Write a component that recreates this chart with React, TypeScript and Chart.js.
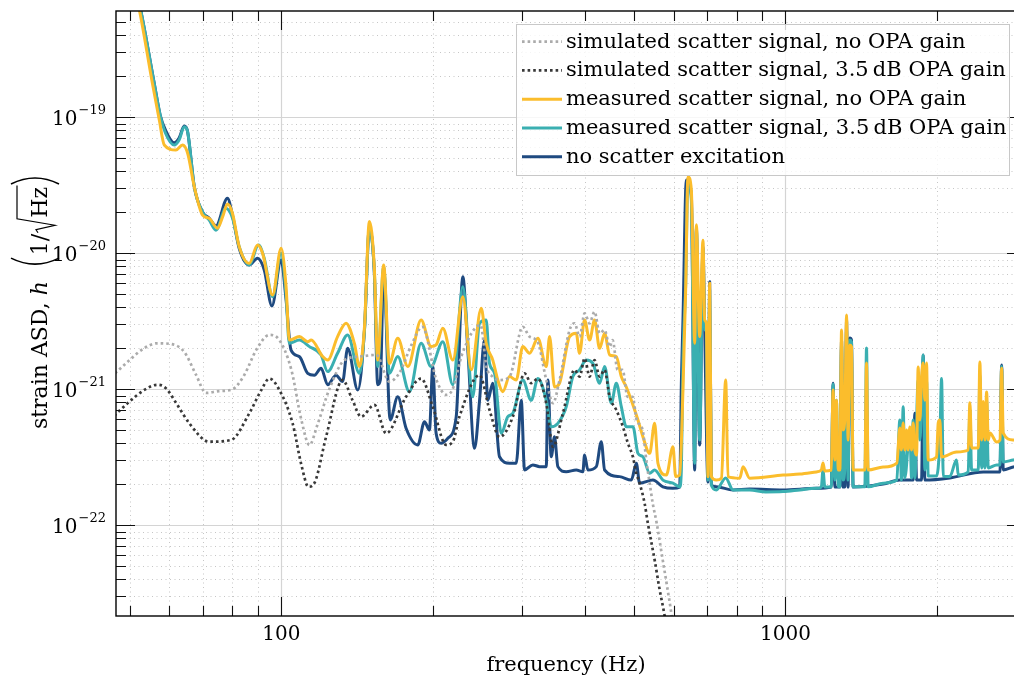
import { useEffect, useRef } from "react";
import { Chart, registerables } from "chart.js";

Chart.register(...registerables);

// ---------------- data ----------------
const seriesLabels = [
  "simulated scatter signal, no OPA gain",
  "simulated scatter signal, 3.5\u2009dB OPA gain",
  "measured scatter signal, no OPA gain",
  "measured scatter signal, 3.5\u2009dB OPA gain",
  "no scatter excitation",
];
const seriesColors = ["#ababab", "#383838", "#fbbd2c", "#3aafb1", "#1f4a80"];

const simNoGainFreq = [46.8, 50, 53.5, 56.7, 60.5, 64.2, 67.8, 70.9, 75.3, 80, 84.4, 89.2, 94.7, 99.1, 104.7, 109.6, 113.7, 117.9, 124.5, 133.4, 142.9, 154.4, 163.8, 171.5, 181.2, 190.5, 203.1, 212.7, 218.6, 228.8, 248.4, 255.3, 262.4, 270.9, 283.6, 301.3, 310.7, 322.3, 335.4, 345.7, 356.4, 373.1, 381.7, 390.5, 399.6, 408.8, 418.2, 427.9, 437.8, 447.9, 454.1, 464.6, 475.3, 486.3, 497.6, 506.8, 520.9, 530.4, 537.8, 545.2, 555.3, 570.7, 583.9, 594.8, 605.7];
const simNoGainASD = [1.31e-21, 1.64e-21, 2.01e-21, 2.18e-21, 2.15e-21, 1.88e-21, 1.27e-21, 9.4e-22, 9.7e-22, 1.0e-21, 1.27e-21, 1.95e-21, 2.51e-21, 2.3e-21, 1.39e-21, 5.95e-22, 3.89e-22, 5.46e-22, 1.0e-21, 1.64e-21, 1.74e-21, 1.79e-21, 1.14e-21, 1.32e-21, 2.12e-21, 2.88e-21, 1.17e-21, 9.1e-22, 1.0e-21, 1.85e-21, 2.97e-21, 1.46e-21, 1.24e-21, 1.17e-21, 1.24e-21, 2.88e-21, 2.44e-21, 2.24e-21, 1.17e-21, 7.9e-22, 1.17e-21, 2.73e-21, 3.06e-21, 2.44e-21, 3.62e-21, 3.06e-21, 3.72e-21, 2.58e-21, 2.73e-21, 2.06e-21, 2.3e-21, 1.39e-21, 1.39e-21, 8.8e-22, 8.8e-22, 5.95e-22, 5.0e-22, 2.87e-22, 2.05e-22, 1.46e-22, 1.04e-22, 5.6e-23, 3.35e-23, 2.15e-23, 1.2e-23];

const simGainFreq = [46.6, 49.9, 53.5, 56.8, 59.0, 62.2, 65.7, 71.9, 79.5, 86.4, 91.3, 94.7, 99.1, 105.3, 109.6, 113.2, 116.3, 122.7, 132.3, 138.4, 143.9, 153.0, 161.4, 176.8, 189.4, 199.7, 212.3, 218.9, 225.6, 247.3, 258.8, 270.9, 287.9, 303.7, 313.2, 322.8, 335.4, 345.7, 361.9, 381.7, 390.5, 399.6, 408.8, 418.2, 427.9, 437.8, 447.9, 461.8, 476.0, 487.0, 498.2, 506.0, 513.7, 525.6, 533.5, 550.2, 563.0, 576.0, 589.3];
const simGainASD = [6.4e-22, 8.07e-22, 9.9e-22, 1.08e-21, 1.02e-21, 7.67e-22, 5.62e-22, 4.12e-22, 4.24e-22, 6.66e-22, 9.9e-22, 1.2e-21, 9.9e-22, 5.62e-22, 2.78e-22, 1.92e-22, 2.04e-22, 4.48e-22, 1.17e-21, 8.34e-22, 6.29e-22, 7.67e-22, 4.75e-22, 8.82e-22, 1.2e-21, 7.45e-22, 3.9e-22, 4.12e-22, 6.29e-22, 1.27e-21, 7.05e-22, 4.46e-22, 6.29e-22, 1.31e-21, 1.11e-21, 1.2e-21, 7.89e-22, 3.78e-22, 6.66e-22, 1.39e-21, 1.24e-21, 1.69e-21, 1.24e-21, 1.64e-21, 1.24e-21, 1.39e-21, 8.82e-22, 7.05e-22, 5.31e-22, 4.01e-22, 3.19e-22, 2.41e-22, 2.04e-22, 1.45e-22, 1.03e-22, 5.56e-23, 3.35e-23, 2.15e-23, 1.2e-23];

const measNoGainFreq = [50.6, 52.3, 55.5, 57.3, 58.6, 61.8, 63.7, 65.2, 67.2, 69.8, 71.9, 74.7, 76.5, 78.2, 80.0, 82.5, 86.4, 89.7, 91.8, 96.1, 99.9, 102.2, 103.7, 108.6, 112.8, 114.6, 120.8, 123.6, 129.3, 134.4, 139.6, 142.9, 146.2, 149.5, 152.9, 155.3, 159.6, 163.8, 170.2, 178.2, 189.4, 198.2, 202.8, 209.1, 218.9, 229.1, 238.1, 249.2, 254.9, 262.7, 268.8, 275.0, 283.6, 292.4, 301.3, 310.7, 322.8, 335.4, 340.5, 348.3, 356.4, 373.1, 384.6, 390.5, 399.5, 408.8, 418.2, 427.9, 437.8, 447.9, 461.8, 472.5, 483.4, 494.6, 509.8, 521.5, 537.8, 550.2, 558.5, 580.4, 598.2, 605.7, 616.8, 626.2, 633.9, 640.6, 650.6, 660.6, 665.7, 675.8, 686.1, 691.5, 696.8, 702.0, 707.5, 712.9, 729.4, 746.3, 761.1, 769.2, 811.5, 823.9, 849.4, 989, 1068, 1152, 1178, 1187, 1197, 1233, 1243, 1253, 1262, 1273, 1282, 1292, 1301, 1311, 1322, 1331, 1342, 1352, 1362, 1437, 1448, 1459, 1562, 1663, 1686, 1698, 1712, 1725, 1739, 1751, 1765, 1779, 1792, 1806, 1820, 1833, 1848, 1862, 1876, 1890, 1905, 1919, 1994, 2009, 2024, 2040, 2184, 2304, 2322, 2340, 2412, 2430, 2450, 2468, 2487, 2506, 2525, 2544, 2624, 2664, 2684, 2704, 2830, 3000];
const measNoGainASD = [1.02e-18, 6.15e-19, 1.78e-19, 9.46e-20, 6.26e-20, 5.75e-20, 6.26e-20, 5.44e-20, 3.09e-20, 1.91e-20, 1.81e-20, 1.53e-20, 1.86e-20, 2.3e-20, 1.97e-20, 1.12e-20, 8.44e-21, 1.15e-20, 1.0e-20, 4.93e-21, 1.09e-20, 5.68e-21, 2.3e-21, 2.44e-21, 2.24e-21, 2.3e-21, 1.74e-21, 1.64e-21, 2.44e-21, 3.06e-21, 2.18e-21, 1.47e-21, 2.88e-21, 1.71e-20, 7.97e-21, 1.64e-21, 8.2e-21, 1.55e-21, 2.37e-21, 1.47e-21, 3.23e-21, 2.06e-21, 2.12e-21, 2.81e-21, 1.64e-21, 4.79e-21, 1.39e-21, 3.94e-21, 2.18e-21, 1.64e-21, 1.17e-21, 9.6e-22, 1.24e-21, 1.17e-21, 2.06e-21, 1.84e-21, 2.37e-21, 1.47e-21, 2.44e-21, 1.04e-21, 1.11e-21, 2.44e-21, 2.58e-21, 1.84e-21, 3.23e-21, 2.3e-21, 3.23e-21, 2.0e-21, 2.58e-21, 1.79e-21, 1.74e-21, 1.24e-21, 1.04e-21, 8.3e-22, 5.95e-22, 4.48e-22, 3.38e-22, 5.62e-22, 2.86e-22, 2.34e-22, 3.78e-22, 2.28e-22, 2.34e-22, 9.9e-22, 5.37e-21, 3.66e-20, 2.92e-20, 2.18e-21, 1.62e-20, 2.44e-21, 1.25e-20, 3.23e-21, 3.06e-21, 2.28e-22, 6.02e-21, 2.28e-22, 2.15e-22, 2.22e-22, 1.17e-21, 2.28e-22, 2.22e-22, 2.7e-22, 2.22e-22, 2.34e-22, 2.38e-22, 2.47e-22, 2.55e-22, 2.87e-22, 2.51e-22, 2.55e-22, 9.9e-22, 3.02e-22, 8.3e-22, 2.55e-22, 2.55e-22, 2.73e-21, 5.02e-22, 5.95e-22, 3.52e-21, 4.24e-22, 2.12e-21, 2.06e-21, 2.55e-22, 2.55e-22, 1.56e-21, 2.55e-22, 2.68e-22, 2.87e-22, 5.19e-22, 3.58e-22, 5.65e-22, 3.58e-22, 5.02e-22, 3.58e-22, 5.28e-22, 3.58e-22, 5.65e-22, 3.58e-22, 3.29e-22, 1.46e-21, 5.95e-22, 1.23e-21, 1.56e-21, 8.3e-22, 1.56e-21, 3.02e-22, 3.18e-22, 5.65e-22, 5.95e-22, 3.18e-22, 3.46e-22, 3.58e-22, 7.98e-22, 3.7e-22, 3.7e-22, 1.59e-21, 4.24e-22, 8.12e-22, 4.24e-22, 9.55e-22, 4.24e-22, 4.77e-22, 4.1e-22, 4.24e-22, 1.43e-21, 4.77e-22, 4.24e-22, 4.1e-22];

const measGainFreq = [50.8, 52.6, 55.96, 57.5, 58.9, 61.3, 62.7, 64.2, 65.2, 67.2, 69.8, 71.9, 74.2, 77.6, 80.0, 82.5, 86.4, 90.1, 92.5, 96.1, 99.9, 102.2, 103.7, 108.6, 113.7, 119.9, 123.6, 129.3, 135.4, 142.9, 146.2, 149.5, 152.9, 155.3, 159.6, 163.8, 170.2, 179.5, 189.4, 198.2, 209.1, 218.9, 229.1, 239.8, 247.3, 254.9, 258.8, 264.8, 273.1, 281.4, 287.9, 301.3, 313.1, 322.8, 335.4, 343.1, 353.6, 367.4, 378.7, 390.5, 402.6, 415.0, 427.9, 437.8, 451.4, 461.8, 472.5, 483.4, 498.3, 509.8, 521.5, 537.8, 550.2, 571.4, 598.2, 616.8, 621.6, 626.2, 633.9, 640.6, 650.6, 660.6, 665.7, 675.8, 686.1, 691.5, 696.8, 702.0, 707.5, 712.9, 729.4, 761.1, 787.0, 849.4, 913.7, 989, 1068, 1152, 1178, 1187, 1197, 1233, 1243, 1253, 1262, 1273, 1282, 1292, 1301, 1311, 1322, 1331, 1342, 1352, 1362, 1437, 1448, 1459, 1562, 1663, 1686, 1698, 1712, 1725, 1765, 1779, 1792, 1806, 1833, 1848, 1862, 1876, 1890, 1905, 1919, 1994, 2024, 2040, 2056, 2118, 2184, 2202, 2304, 2322, 2340, 2412, 2430, 2450, 2468, 2487, 2506, 2525, 2624, 2664, 2684, 2704, 2830, 3000];
const measGainASD = [1.02e-18, 6.15e-19, 1.78e-19, 1.04e-19, 7.67e-20, 6.26e-20, 6.81e-20, 8.53e-20, 7.8e-20, 3.09e-20, 2.01e-20, 1.76e-20, 1.48e-20, 2.14e-20, 1.82e-20, 1.12e-20, 8.2e-21, 1.15e-20, 9.19e-21, 4.79e-21, 1.0e-20, 4.93e-21, 2.18e-21, 2.3e-21, 2.06e-21, 1.79e-21, 1.35e-21, 1.84e-21, 2.51e-21, 1.31e-21, 2.73e-21, 1.53e-20, 7.54e-21, 1.47e-21, 7.97e-21, 1.31e-21, 1.74e-21, 9.6e-22, 2.18e-21, 1.47e-21, 2.24e-21, 1.08e-21, 5.68e-21, 8.8e-22, 3.06e-21, 3.23e-21, 1.55e-21, 1.31e-21, 4.75e-22, 6.29e-22, 6.66e-22, 1.17e-21, 8.3e-22, 1.2e-21, 8.3e-22, 5.31e-22, 5.62e-22, 7.45e-22, 1.24e-21, 1.39e-21, 1.64e-21, 1.55e-21, 1.11e-21, 1.47e-21, 7.9e-22, 1.11e-21, 7.45e-22, 5.31e-22, 5.31e-22, 3.38e-22, 3.19e-22, 2.41e-22, 2.55e-22, 2.15e-22, 2.04e-22, 1.92e-22, 2.55e-22, 1.64e-21, 5.85e-21, 3.46e-20, 2.47e-20, 2.86e-22, 1.48e-20, 4.24e-22, 1.06e-20, 2.73e-21, 2.73e-21, 2.15e-22, 5.37e-21, 1.98e-22, 1.82e-22, 2.23e-22, 1.82e-22, 1.82e-22, 1.76e-22, 1.77e-22, 1.82e-22, 1.87e-22, 1.91e-22, 2.55e-22, 1.91e-22, 1.92e-22, 1.09e-21, 2.15e-22, 8.3e-22, 1.92e-22, 1.92e-22, 2.12e-21, 2.15e-22, 2.55e-22, 2.73e-21, 2.15e-22, 2.3e-21, 2.23e-21, 1.92e-22, 1.92e-22, 2.01e-21, 1.92e-22, 2.04e-22, 2.15e-22, 5.95e-22, 2.15e-22, 7.45e-22, 2.23e-22, 5.02e-22, 2.23e-22, 5.95e-22, 2.23e-22, 1.17e-21, 4.24e-22, 8.3e-22, 1.79e-21, 2.55e-22, 1.17e-21, 2.3e-22, 2.3e-22, 4.24e-22, 1.2e-21, 2.3e-22, 2.28e-22, 3.02e-22, 2.34e-22, 2.47e-22, 7.05e-22, 2.55e-22, 2.55e-22, 1.27e-21, 2.64e-22, 5.95e-22, 2.64e-22, 8.3e-22, 2.64e-22, 2.78e-22, 2.78e-22, 1.47e-21, 2.92e-22, 3.02e-22, 3.1e-22];

const quietFreq = [50.9, 52.6, 55.96, 57.5, 58.9, 61.3, 62.7, 64.2, 65.2, 67.2, 69.8, 71.9, 74.2, 78.2, 80.0, 82.5, 86.4, 89.7, 92.5, 95.8, 99.9, 102.2, 104.5, 108.6, 112.8, 116.3, 119.9, 123.6, 128.4, 132.3, 135.4, 141.8, 146.2, 149.5, 152.9, 155.3, 157.2, 159.6, 164.4, 170.2, 176.8, 186.5, 192.3, 196.7, 199.7, 202.8, 207.5, 213.9, 222.3, 229.1, 234.4, 241.7, 247.3, 252.9, 256.8, 262.7, 270.9, 283.6, 292.4, 299.2, 303.7, 315.4, 325.3, 335.4, 337.9, 343.1, 348.3, 353.6, 367.4, 384.6, 396.4, 399.5, 405.6, 421.5, 431.2, 437.8, 468.9, 494.6, 506.1, 513.7, 545.9, 571.4, 598.2, 616.8, 621.6, 626.2, 635.9, 650.6, 660.6, 665.7, 675.8, 686.1, 691.5, 702.0, 707.5, 712.9, 729.4, 787.0, 849.4, 989, 1152, 1233, 1243, 1253, 1282, 1292, 1301, 1311, 1322, 1331, 1342, 1352, 1362, 1562, 1686, 1792, 1806, 1820, 1862, 1876, 1890, 2118, 2468, 2664, 2684, 2704, 2830, 3000];
const quietASD = [1.02e-18, 6.15e-19, 1.78e-19, 1.04e-19, 8.07e-20, 6.5e-20, 7.04e-20, 8.63e-20, 7.8e-20, 3.09e-20, 2.01e-20, 1.82e-20, 1.59e-20, 2.54e-20, 1.91e-20, 1.09e-20, 8.2e-21, 9.19e-21, 7.54e-21, 4.1e-21, 8.93e-21, 4.54e-21, 1.95e-21, 1.74e-21, 1.31e-21, 1.27e-21, 1.43e-21, 1.08e-21, 1.27e-21, 1.14e-21, 2.0e-21, 9.9e-22, 2.73e-21, 1.53e-20, 7.29e-21, 1.08e-21, 1.17e-21, 7.54e-21, 5.95e-22, 8.8e-22, 5.17e-22, 3.9e-22, 5.78e-22, 5.02e-22, 1.47e-21, 4.75e-22, 4.01e-22, 4.36e-22, 6.29e-22, 6.73e-21, 1.95e-21, 3.68e-22, 8.3e-22, 2.3e-21, 8.3e-22, 1.11e-21, 3.19e-22, 2.86e-22, 2.86e-22, 8.3e-22, 2.55e-22, 2.78e-22, 2.7e-22, 2.7e-22, 1.17e-21, 3.19e-22, 4.48e-22, 2.7e-22, 2.48e-22, 2.55e-22, 2.48e-22, 3.29e-22, 2.55e-22, 2.7e-22, 4.12e-22, 2.55e-22, 2.28e-22, 2.15e-22, 2.86e-22, 2.04e-22, 2.15e-22, 1.92e-22, 1.87e-22, 1.91e-22, 1.11e-21, 3.23e-21, 3.46e-20, 2.68e-20, 2.55e-22, 1.53e-20, 3.9e-22, 1.12e-20, 2.73e-21, 2.08e-22, 6.18e-21, 1.98e-22, 1.92e-22, 1.82e-22, 1.85e-22, 1.82e-22, 1.87e-22, 1.91e-22, 1.11e-21, 1.91e-22, 1.91e-22, 2.3e-21, 1.91e-22, 1.91e-22, 3.23e-21, 1.91e-22, 2.38e-21, 2.3e-21, 1.91e-22, 2.01e-22, 2.15e-22, 2.15e-22, 6.66e-22, 2.15e-22, 2.15e-22, 1.79e-21, 2.15e-22, 2.23e-22, 2.47e-22, 2.47e-22, 1.51e-21, 2.55e-22, 2.68e-22, 2.73e-22];

// axis ranges and ticks
const X_MIN = 47;
const X_MAX = 3000;
const Y_MIN = 2.153e-23;
const Y_MAX = 6.05e-19;
const xMajorTicks = [100, 1000];
const xTickLabels = ["100", "1000"];
const xMinorTicks = [50, 60, 70, 80, 90, 200, 300, 400, 500, 600, 700, 800, 900, 2000];
const yMajorTicks = [1e-22, 1e-21, 1e-20, 1e-19];
const yTickExponents = ["\u221222", "\u221221", "\u221220", "\u221219"];
const yMinorMantissas = [2, 3, 4, 5, 6, 7, 8, 9];
const yDecades = [1e-23, 1e-22, 1e-21, 1e-20, 1e-19];

const xTitle = "frequency (Hz)";

const FONT = '"DejaVu Serif", "Liberation Serif", serif';

function yMinorTicks(): number[] {
  const out: number[] = [];
  for (const d of yDecades) for (const m of yMinorMantissas) {
    const v = m * d;
    if (v > Y_MIN * 1.01 && v < Y_MAX * 0.99) out.push(v);
  }
  return out;
}

function drawYTitle(ctx: CanvasRenderingContext2D, cx: number, cy: number) {
  ctx.save();
  ctx.translate(cx, cy);
  ctx.rotate(-Math.PI / 2);
  ctx.fillStyle = "#000";
  ctx.strokeStyle = "#000";
  ctx.textBaseline = "alphabetic";
  ctx.textAlign = "left";
  const fBase = `22px ${FONT}`;
  const fIt = `italic 22px ${FONT}`;
  const segs: { t: string; f: string; kind?: string; w?: number }[] = [
    { t: "strain ASD, ", f: fBase },
    { t: "h", f: fIt },
    { t: "  ", f: fBase },
    { t: "", f: fBase, kind: "lp", w: 12 },
    { t: "1/", f: fBase },
    { t: "", f: fBase, kind: "rad", w: 16 },
    { t: "Hz", f: fBase, kind: "hz" },
    { t: "", f: fBase, kind: "rp", w: 12 },
  ];
  let total = 0;
  for (const s of segs) {
    if (s.kind === "rad" || s.kind === "lp" || s.kind === "rp") { total += s.w!; continue; }
    ctx.font = s.f;
    s.w = ctx.measureText(s.t).width;
    total += s.w;
  }
  let x = -total / 2;
  let radStart = 0;
  for (const s of segs) {
    if (s.kind === "rad") { radStart = x; x += s.w!; continue; }
    if (s.kind === "lp") {
      ctx.lineWidth = 1.6;
      ctx.beginPath();
      ctx.moveTo(x + 9, -36);
      ctx.quadraticCurveTo(x - 3, -12, x + 9, 12);
      ctx.stroke();
      x += s.w!;
      continue;
    }
    if (s.kind === "rp") {
      ctx.lineWidth = 1.6;
      ctx.beginPath();
      ctx.moveTo(x + 3, -36);
      ctx.quadraticCurveTo(x + 15, -12, x + 3, 12);
      ctx.stroke();
      x += s.w!;
      continue;
    }
    ctx.font = s.f;
    ctx.fillText(s.t, x, 0);
    if (s.kind === "hz") {
      const x0 = radStart;
      ctx.lineWidth = 1.2;
      ctx.beginPath();
      ctx.moveTo(x0 + 1, -9);
      ctx.lineTo(x0 + 4, -11);
      ctx.lineTo(x0 + 8.5, 8);
      ctx.lineTo(x0 + 15, -30);
      ctx.lineTo(x + s.w! + 1.5, -30);
      ctx.stroke();
    }
    x += s.w!;
  }
  ctx.restore();
}

const decorPlugin = {
  id: "decor",
  beforeDatasetsDraw(chart: any) {
    const { ctx, chartArea: a } = chart;
    const xs = chart.scales.x;
    const ys = chart.scales.y;
    ctx.save();
    ctx.beginPath();
    ctx.rect(a.left, a.top, a.right - a.left, a.bottom - a.top);
    ctx.clip();
    ctx.lineWidth = 1;
    ctx.strokeStyle = "#c6c6c6";
    ctx.setLineDash([1, 3.5]);
    for (const v of xMinorTicks) {
      const p = Math.round(xs.getPixelForValue(v)) + 0.5;
      ctx.beginPath(); ctx.moveTo(p, a.top); ctx.lineTo(p, a.bottom); ctx.stroke();
    }
    for (const v of yMinorTicks()) {
      const p = Math.round(ys.getPixelForValue(v)) + 0.5;
      ctx.beginPath(); ctx.moveTo(a.left, p); ctx.lineTo(a.right, p); ctx.stroke();
    }
    ctx.setLineDash([]);
    ctx.strokeStyle = "#d4d4d4";
    ctx.lineWidth = 1.2;
    for (const v of xMajorTicks) {
      const p = Math.round(xs.getPixelForValue(v)) + 0.5;
      ctx.beginPath(); ctx.moveTo(p, a.top); ctx.lineTo(p, a.bottom); ctx.stroke();
    }
    for (const v of yMajorTicks) {
      const p = Math.round(ys.getPixelForValue(v)) + 0.5;
      ctx.beginPath(); ctx.moveTo(a.left, p); ctx.lineTo(a.right, p); ctx.stroke();
    }
    ctx.restore();
  },
  afterDraw(chart: any) {
    const { ctx, chartArea: a } = chart;
    const xs = chart.scales.x;
    const ys = chart.scales.y;
    ctx.save();
    // ticks (inside, all four sides)
    ctx.strokeStyle = "#111";
    ctx.lineWidth = 1.1;
    const MAJ = 19, MIN = 10;
    const vt = (v: number, len: number) => {
      const p = Math.round(xs.getPixelForValue(v)) + 0.5;
      ctx.beginPath();
      ctx.moveTo(p, a.bottom); ctx.lineTo(p, a.bottom - len);
      ctx.moveTo(p, a.top); ctx.lineTo(p, a.top + len);
      ctx.stroke();
    };
    const ht = (v: number, len: number) => {
      const p = Math.round(ys.getPixelForValue(v)) + 0.5;
      ctx.beginPath();
      ctx.moveTo(a.left, p); ctx.lineTo(a.left + len, p);
      ctx.moveTo(a.right, p); ctx.lineTo(a.right - len, p);
      ctx.stroke();
    };
    xMinorTicks.forEach((v) => vt(v, MIN));
    xMajorTicks.forEach((v) => vt(v, MAJ));
    yMinorTicks().forEach((v) => ht(v, MIN));
    yMajorTicks.forEach((v) => ht(v, MAJ));
    // spines
    ctx.lineWidth = 1.4;
    ctx.strokeStyle = "#000";
    ctx.strokeRect(a.left, a.top, a.right - a.left, a.bottom - a.top);

    // legend
    const lx = 516.5, ly = 24.5, lw = 493, lh = 151;
    ctx.fillStyle = "rgba(255,255,255,0.8)";
    ctx.fillRect(lx, ly, lw, lh);
    ctx.strokeStyle = "#c8c8c8";
    ctx.lineWidth = 1;
    ctx.strokeRect(lx, ly, lw, lh);
    chart.data.datasets.forEach((ds: any, i: number) => {
      const y = 41.7 + i * 28.75;
      ctx.strokeStyle = ds.borderColor;
      ctx.lineWidth = ds.borderWidth;
      ctx.setLineDash(ds.borderDash || []);
      ctx.beginPath();
      ctx.moveTo(522, y);
      ctx.lineTo(562, y);
      ctx.stroke();
      ctx.setLineDash([]);
      ctx.fillStyle = "#000";
      ctx.font = `21px ${FONT}`;
      ctx.textAlign = "left";
      ctx.textBaseline = "alphabetic";
      ctx.fillText(ds.label, 566, y + 6);
    });

    // y tick labels 10^n
    ctx.fillStyle = "#000";
    ctx.textAlign = "left";
    ctx.textBaseline = "alphabetic";
    yMajorTicks.forEach((v, i) => {
      const p = ys.getPixelForValue(v);
      const exp = yTickExponents[i];
      ctx.font = `13px ${FONT}`;
      const ew = ctx.measureText(exp).width;
      const right = 106;
      ctx.fillText(exp, right - ew, p - 3);
      ctx.font = `20px ${FONT}`;
      const bw = ctx.measureText("10").width;
      ctx.fillText("10", right - ew - bw - 1, p + 8);
    });

    // x title
    ctx.font = `21px ${FONT}`;
    ctx.textAlign = "center";
    ctx.fillText(xTitle, 566, 671);

    // y title
    drawYTitle(ctx, 47, 302);
    ctx.restore();
  },
};

export default function App() {
  const ref = useRef<HTMLCanvasElement>(null);
  useEffect(() => {
    const canvas = ref.current;
    if (!canvas) return;
    const mk = (fs: number[], vs: number[]) => fs.map((f, i) => ({ x: f, y: vs[i] }));
    const dotted = [2.6, 3];
    const chart = new Chart(canvas, {
      type: "line",
      data: {
        datasets: [
          { label: seriesLabels[0], data: mk(simNoGainFreq, simNoGainASD), borderColor: seriesColors[0], borderWidth: 2.7, borderDash: dotted },
          { label: seriesLabels[1], data: mk(simGainFreq, simGainASD), borderColor: seriesColors[1], borderWidth: 2.7, borderDash: dotted },
          { label: seriesLabels[2], data: mk(measNoGainFreq, measNoGainASD), borderColor: seriesColors[2], borderWidth: 3 },
          { label: seriesLabels[3], data: mk(measGainFreq, measGainASD), borderColor: seriesColors[3], borderWidth: 3 },
          { label: seriesLabels[4], data: mk(quietFreq, quietASD), borderColor: seriesColors[4], borderWidth: 3 },
        ].map((d: any) => ({ ...d, pointRadius: 0, fill: false, cubicInterpolationMode: "monotone", clip: 0, borderCapStyle: "butt", borderJoinStyle: "round" })),
      },
      options: {
        animation: false,
        responsive: false,
        devicePixelRatio: 1,
        events: [],
        layout: { padding: { left: 0, right: 4, top: 11, bottom: 0 } },
        plugins: { legend: { display: false }, tooltip: { enabled: false } },
        scales: {
          x: {
            type: "logarithmic",
            min: X_MIN,
            max: X_MAX,
            position: "bottom",
            grid: { display: false, drawTicks: false },
            border: { display: false },
            ticks: {
              autoSkip: false,
              maxRotation: 0,
              minRotation: 0,
              padding: 7,
              color: "#000",
              font: { family: FONT, size: 20 },
              callback: (v: any) => {
                const i = xMajorTicks.indexOf(Number(v));
                return i >= 0 ? xTickLabels[i] : "";
              },
            },
            afterBuildTicks: (s: any) => { s.ticks = xMajorTicks.map((v) => ({ value: v })); },
            afterFit: (s: any) => { s.height = 68; },
          },
          y: {
            type: "logarithmic",
            min: Y_MIN,
            max: Y_MAX,
            position: "left",
            grid: { display: false, drawTicks: false },
            border: { display: false },
            ticks: { display: false },
            afterBuildTicks: (s: any) => { s.ticks = yMajorTicks.map((v) => ({ value: v })); },
            afterFit: (s: any) => { s.width = 116; },
          },
        },
      } as any,
      plugins: [decorPlugin],
    });
    return () => chart.destroy();
  }, []);
  return (
    <div style={{ position: "fixed", left: 0, top: 0, width: 1014, height: 684, overflow: "hidden", background: "#fff" }}>
      <canvas ref={ref} width={1030} height={684} style={{ display: "block" }} />
    </div>
  );
}
